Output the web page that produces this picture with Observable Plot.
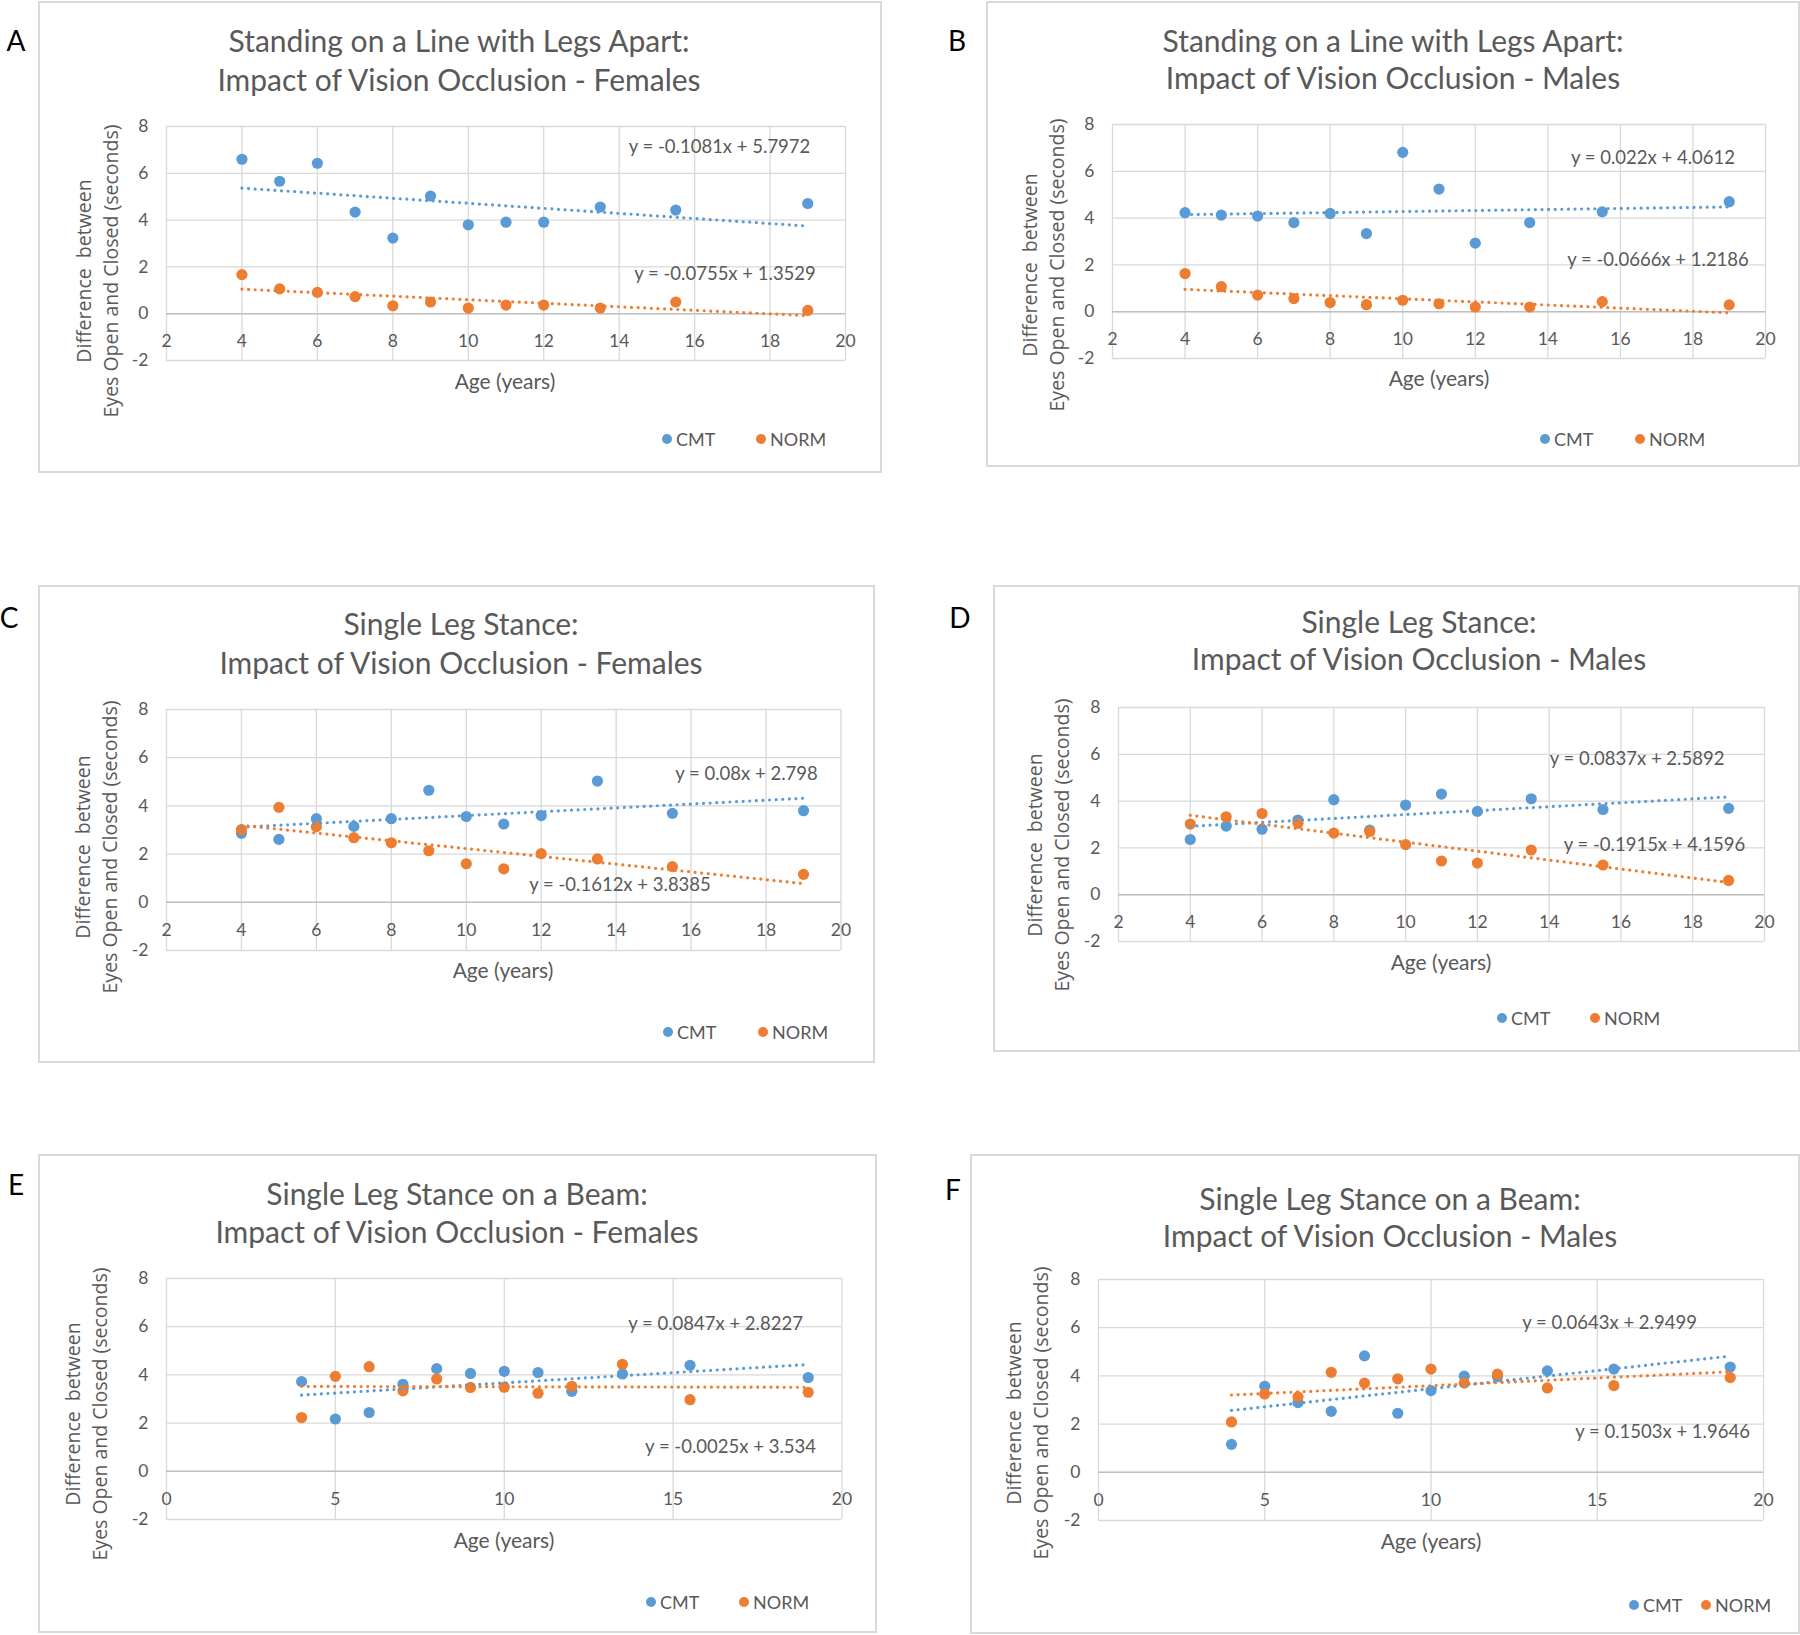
<!DOCTYPE html>
<html>
<head>
<meta charset="utf-8">
<script src="https://cdn.jsdelivr.net/npm/d3@7"></script>
<script src="https://cdn.jsdelivr.net/npm/@observablehq/plot@0.6"></script>
<style>
  body { margin: 0; background: #fff; }
  #root { position: relative; width: 1800px; height: 1635px; overflow: hidden; font-family: Lato, "Open Sans", sans-serif; color: #595959; }
  .abs { position: absolute; white-space: pre; }
  .frame { position: absolute; border: 2px solid #D9D9D9; box-sizing: border-box; }
  .title { font-size: 30px; font-weight: 400; transform: translate(-50%, -50%); }
  .letter { font-size: 28px; color: #000; transform: translate(-50%, -50%); }
  .xtitle { font-size: 21px; transform: translate(-50%, -50%); }
  .ytitle { font-family: "Open Sans", sans-serif; font-size: 19.5px; line-height: 27px; text-align: center; transform: translate(-50%, -50%) rotate(-90deg); }
  .eq { font-size: 18.5px; transform: translate(-50%, -50%); }
  .leg { font-size: 18px; transform: translate(0, -50%); display: flex; align-items: center; }
  .leg i { display: inline-block; width: 10px; height: 10px; border-radius: 50%; margin-right: 4px; }
  svg { overflow: visible; }
</style>
</head>
<body>
<div id="root"></div>
<script>
// ---------- data ----------
const ages = [4, 5, 6, 7, 8, 9, 10, 11, 12, 13.5, 15.5, 19];

const cmtA  = [6.6, 5.66, 6.43, 4.34, 3.23, 5.03, 3.8, 3.91, 3.91, 4.56, 4.43, 4.71];
const normA = [1.67, 1.06, 0.91, 0.73, 0.34, 0.5, 0.24, 0.37, 0.37, 0.24, 0.5, 0.14];
const cmtB  = [4.23, 4.13, 4.09, 3.81, 4.2, 3.34, 6.81, 5.24, 2.93, 3.81, 4.27, 4.7];
const normB = [1.63, 1.07, 0.71, 0.56, 0.39, 0.3, 0.49, 0.34, 0.2, 0.2, 0.43, 0.29];
const cmtC  = [2.86, 2.61, 3.47, 3.15, 3.47, 4.65, 3.56, 3.25, 3.6, 5.03, 3.69, 3.8];
const normC = [3.02, 3.94, 3.14, 2.68, 2.47, 2.14, 1.6, 1.39, 2.02, 1.8, 1.48, 1.16];
const cmtD  = [2.36, 2.93, 2.8, 3.19, 4.06, 2.76, 3.83, 4.3, 3.56, 4.1, 3.64, 3.69];
const normD = [3.02, 3.33, 3.47, 3.05, 2.63, 2.7, 2.14, 1.44, 1.35, 1.91, 1.27, 0.61];
const cmtE  = [3.72, 2.17, 2.44, 3.61, 4.26, 4.06, 4.15, 4.1, 3.32, 4.04, 4.4, 3.89];
const normE = [2.23, 3.94, 4.34, 3.34, 3.83, 3.48, 3.49, 3.24, 3.53, 4.44, 2.97, 3.28];
const cmtF  = [1.16, 3.57, 2.89, 2.53, 4.83, 2.45, 3.39, 3.99, 3.97, 4.21, 4.28, 4.37];
const normF = [2.09, 3.25, 3.13, 4.15, 3.7, 3.88, 4.28, 3.7, 4.07, 3.5, 3.6, 3.93];

// trendlines: [slope, intercept]
const trendCmtA = [-0.1081, 5.7972], trendNormA = [-0.0755, 1.3529];
const trendCmtB = [0.022, 4.0612],   trendNormB = [-0.0666, 1.2186];
const trendCmtC = [0.08, 2.798],     trendNormC = [-0.1612, 3.8385];
const trendCmtD = [0.0837, 2.5892],  trendNormD = [-0.1915, 4.1596];
const trendCmtE = [0.0847, 2.8227],  trendNormE = [-0.0025, 3.534];
const trendCmtF = [0.1503, 1.9646],  trendNormF = [0.0643, 2.9499];

const xTicksA = [2, 4, 6, 8, 10, 12, 14, 16, 18, 20];
const xTicksB = [0, 5, 10, 15, 20];
const yTicks = [-2, 0, 2, 4, 6, 8];

const panelLetters = ["A", "B", "C", "D", "E", "F"];
const titleLine1 = [
  "Standing on a Line with Legs Apart:", "Standing on a Line with Legs Apart:",
  "Single Leg Stance:", "Single Leg Stance:",
  "Single Leg Stance on a Beam:", "Single Leg Stance on a Beam:"
];
const titleLine2 = [
  "Impact of Vision Occlusion - Females", "Impact of Vision Occlusion - Males",
  "Impact of Vision Occlusion - Females", "Impact of Vision Occlusion - Males",
  "Impact of Vision Occlusion - Females", "Impact of Vision Occlusion - Males"
];
const seriesNames = ["CMT", "NORM"];
const xTitle = "Age (years)";
const yTitleLines = ["Difference  between", "Eyes Open and Closed (seconds)"];

const cmtSeries = [cmtA, cmtB, cmtC, cmtD, cmtE, cmtF];
const normSeries = [normA, normB, normC, normD, normE, normF];
const cmtTrends = [trendCmtA, trendCmtB, trendCmtC, trendCmtD, trendCmtE, trendCmtF];
const normTrends = [trendNormA, trendNormB, trendNormC, trendNormD, trendNormE, trendNormF];
const xTickSets = [xTicksA, xTicksA, xTicksA, xTicksA, xTicksB, xTicksB];

// ---------- layout (page pixel positions) ----------
const layout = [
  {frame:[38,1,882,473], plot:[166,845,126,360], tcx:459, ty:[40,79], letter:[16,40], xt:[505,380], yt:[96.5,271], ly:439, ld:[667,761], eqC:[719.5,146], eqN:[725,273]},
  {frame:[986,1,1800,467], plot:[1112,1765,124,358], tcx:1393, ty:[40,77], letter:[957,40], xt:[1439,377], yt:[1042.5,265], ly:439, ld:[1545,1640], eqC:[1653,157], eqN:[1658,259]},
  {frame:[38,585,875,1063], plot:[165.5,840,709,950], tcx:461, ty:[623,662], letter:[9,617], xt:[503,969], yt:[95.5,847], ly:1032, ld:[668,763], eqC:[746.5,773], eqN:[620,884]},
  {frame:[993,585,1800,1052], plot:[1118,1764,707,941], tcx:1419, ty:[621,658], letter:[960,617], xt:[1441,961], yt:[1048,845], ly:1018, ld:[1502,1595], eqC:[1637,758], eqN:[1654.5,844]},
  {frame:[38,1154,877,1633], plot:[165.5,841,1278,1519], tcx:457, ty:[1193,1231], letter:[16,1184], xt:[504,1539], yt:[86,1414], ly:1602, ld:[651,744], eqC:[715.5,1323], eqN:[730.5,1446]},
  {frame:[970,1154,1800,1634], plot:[1098,1763,1279,1520], tcx:1390, ty:[1198,1235], letter:[953,1189], xt:[1431,1540], yt:[1027,1413], ly:1605, ld:[1634,1706], eqC:[1662.5,1431], eqN:[1609.5,1322]}
];

const BLUE = "#5B9BD5", ORANGE = "#ED7D31", GRID = "#D9D9D9";

const root = document.getElementById("root");
function addDiv(cls, x, y, html, extra) {
  const d = document.createElement("div");
  d.className = "abs " + cls;
  d.style.left = x + "px";
  d.style.top = y + "px";
  d.innerHTML = html;
  if (extra) Object.assign(d.style, extra);
  root.appendChild(d);
  return d;
}
const eqText = ([m, b]) => `y = ${m}x + ${b}`;

layout.forEach((L, i) => {
  // frame
  const f = document.createElement("div");
  f.className = "frame";
  Object.assign(f.style, {left: L.frame[0] + "px", top: L.frame[1] + "px", width: (L.frame[2] - L.frame[0]) + "px", height: (L.frame[3] - L.frame[1]) + "px"});
  root.appendChild(f);

  const ML = 50, MR = 30, MT = 14, MB = 40;
  const [x0, x1, y0, y1] = L.plot;
  const xTicks = xTickSets[i];
  const cmtRows = ages.map((a, k) => ({age: a, v: cmtSeries[i][k]}));
  const normRows = ages.map((a, k) => ({age: a, v: normSeries[i][k]}));
  const ext = d3.extent(ages);
  const trendRows = (t) => ext.map(a => ({age: a, v: t[0] * a + t[1]}));
  const trendStyle = {strokeWidth: 3.2, strokeDasharray: "0.01,6.6", strokeLinecap: "round"};

  const chart = Plot.plot({
    width: (x1 - x0) + ML + MR,
    height: (y1 - y0) + MT + MB,
    marginLeft: ML, marginRight: MR, marginTop: MT, marginBottom: MB,
    x: {domain: [xTicks[0], 20], axis: null},
    y: {domain: [-2, 8], axis: null},
    style: {fontFamily: "Lato, sans-serif", color: "#595959", background: "transparent", overflow: "visible"},
    marks: [
      Plot.gridX(xTicks, {stroke: GRID, strokeOpacity: 1, strokeWidth: 1.3}),
      Plot.gridY(yTicks, {stroke: GRID, strokeOpacity: 1, strokeWidth: 1.3}),
      Plot.ruleY([0], {stroke: "#BFBFBF", strokeWidth: 1.6}),
      Plot.axisY(yTicks, {tickSize: 0, tickPadding: 18, fontSize: 17.5, tickFormat: d => String(d), label: null}),
      Plot.text(xTicks, {x: d => d, y: () => 0, dy: 28, text: d => String(d), fontSize: 17.5, fill: "#595959"}),
      Plot.dot(cmtRows, {x: "age", y: "v", r: 5.6, fill: BLUE}),
      Plot.dot(normRows, {x: "age", y: "v", r: 5.6, fill: ORANGE}),
      Plot.line(trendRows(cmtTrends[i]), {x: "age", y: "v", stroke: BLUE, ...trendStyle}),
      Plot.line(trendRows(normTrends[i]), {x: "age", y: "v", stroke: ORANGE, ...trendStyle})
    ]
  });
  const wrap = document.createElement("div");
  wrap.style.position = "absolute";
  wrap.style.left = (x0 - ML) + "px";
  wrap.style.top = (y0 - MT) + "px";
  wrap.appendChild(chart);
  root.appendChild(wrap);

  addDiv("title", L.tcx, L.ty[0], titleLine1[i]);
  addDiv("title", L.tcx, L.ty[1], titleLine2[i]);
  addDiv("letter", L.letter[0], L.letter[1], panelLetters[i]);
  addDiv("xtitle", L.xt[0], L.xt[1], xTitle);
  addDiv("ytitle", L.yt[0], L.yt[1], yTitleLines.join("\n"));
  addDiv("eq", L.eqC[0], L.eqC[1], eqText(cmtTrends[i]));
  addDiv("eq", L.eqN[0], L.eqN[1], eqText(normTrends[i]));
  addDiv("leg", L.ld[0] - 5, L.ly, `<i style="background:${BLUE}"></i>${seriesNames[0]}`);
  addDiv("leg", L.ld[1] - 5, L.ly, `<i style="background:${ORANGE}"></i>${seriesNames[1]}`);
});
</script>
</body>
</html>
